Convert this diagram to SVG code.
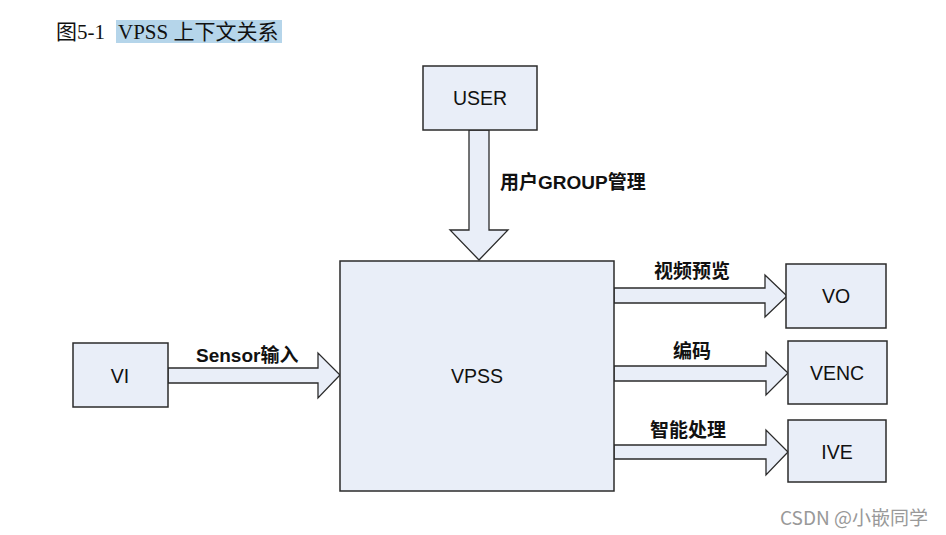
<svg xmlns="http://www.w3.org/2000/svg" width="946" height="535" viewBox="0 0 946 535">
<style>
.box{fill:#e9eef8;stroke:#2b2b2b;stroke-width:1.5}
.arr{fill:#e9eef8;stroke:#2b2b2b;stroke-width:1.3;stroke-linejoin:miter}
.nl{font-family:"Liberation Sans",Arial,sans-serif;font-size:19.5px;fill:#111;text-anchor:middle}
.el{font-family:"Liberation Sans","Noto Sans CJK SC",sans-serif;font-size:19px;font-weight:bold;fill:#111}
.title{font-family:"Liberation Serif","Noto Sans CJK SC",serif;font-size:21px;fill:#111}
</style>
<rect width="946" height="535" fill="#fff"/>
<rect x="116" y="20" width="166" height="23" fill="#b5d5ea"/>
<text class="title" x="56" y="39">图5-1</text>
<text class="title" x="118" y="39">VPSS 上下文关系</text>
<g id="connectors">
<polygon class="arr" points="469,130 489,130 489,230 508,230 479,260 450,230 469,230"/>
<polygon class="arr" points="168,368 318,368 318,353 340,375 318,398 318,383 168,383"/>
<polygon class="arr" points="614,288 765,288 765,275 787,296 765,317 765,303 614,303"/>
<polygon class="arr" points="614,366 766,366 766,352 788,373 766,395 766,381 614,381"/>
<polygon class="arr" points="614,445 766,445 766,430 788,452 766,475 766,459 614,459"/>
<text class="el" x="500" y="189">用户GROUP管理</text>
<text class="el" x="196" y="362">Sensor输入</text>
<text class="el" x="654" y="278">视频预览</text>
<text class="el" x="673" y="358">编码</text>
<text class="el" x="650" y="437">智能处理</text>
</g>
<g id="user"><rect class="box" x="423" y="66" width="114" height="64"/><text class="nl" x="480" y="105">USER</text></g>
<g id="vpss"><rect class="box" x="340" y="261" width="274" height="230"/><text class="nl" x="477" y="383">VPSS</text></g>
<g id="vi"><rect class="box" x="73" y="343" width="95" height="64"/><text class="nl" x="120" y="383">VI</text></g>
<g id="vo"><rect class="box" x="786" y="264" width="100" height="64"/><text class="nl" x="836" y="303">VO</text></g>
<g id="venc"><rect class="box" x="788" y="341" width="99" height="63"/><text class="nl" x="837" y="380">VENC</text></g>
<g id="ive"><rect class="box" x="788" y="420" width="98" height="62"/><text class="nl" x="837" y="459">IVE</text></g>
<text x="780" y="525" font-family="'Noto Sans CJK SC','Noto Sans',sans-serif" font-size="19" fill="#999">CSDN @小嵌同学</text>
</svg>
